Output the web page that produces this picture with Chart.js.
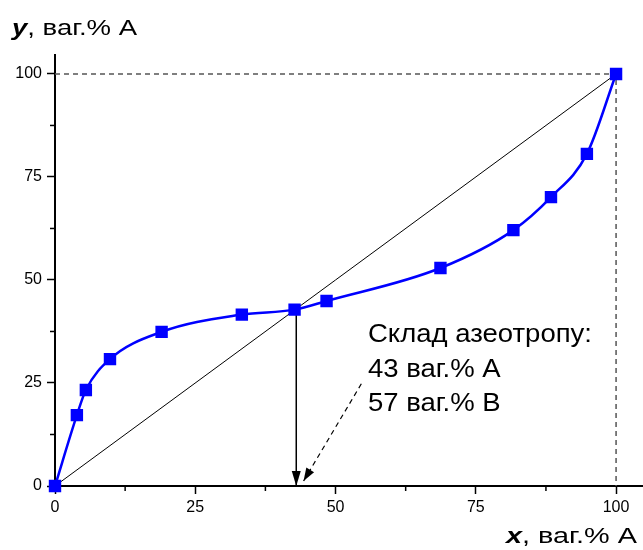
<!DOCTYPE html>
<html><head><meta charset="utf-8">
<script src="https://cdn.jsdelivr.net/npm/chart.js@4.4.0/dist/chart.umd.min.js"></script>
<style>html,body{margin:0;padding:0;background:#fff}#wrap{width:643px;height:550px;position:relative}</style>
</head><body><div id="wrap"><canvas id="c" width="643" height="550"></canvas></div>
<script>
// Data
const curveX = [0, 3.9, 5.5, 9.8, 19.0, 33.3, 42.7, 48.4, 68.7, 81.7, 88.4, 94.8, 100];
const curveY = [0, 17.2, 23.3, 30.8, 37.4, 41.6, 42.8, 44.9, 52.9, 62.1, 70.1, 80.6, 100];
const diagX = [0, 100];
const diagY = [0, 100];
const refX = [0, 100, 100];
const refY = [100, 100, 0];
const azeoX = [43, 43];
const azeoY = [43, 0];
const pointerX = [54.6, 44.3];
const pointerY = [24.8, 1.2];
const majorTicks = [0, 25, 50, 75, 100];
const minorTicks = [12.5, 37.5, 62.5, 87.5];
const noteLines = ['Склад азеотропу:', '43 ваг.% A', '57 ваг.% B'];
const yTitle = ['y', ', ваг.% A'];
const xTitle = ['x', ', ваг.% A'];
const xAxisMax = 104.8;
const yAxisMax = 104.6;

const FONT = '"Liberation Sans", Arial, sans-serif';
const zip = (xs, ys) => xs.map((x, i) => ({x, y: ys[i]}));

function arrowHead(ctx, x1, y1, x2, y2, len, half) {
  const a = Math.atan2(y2 - y1, x2 - x1);
  ctx.beginPath();
  ctx.moveTo(x2, y2);
  ctx.lineTo(x2 - len * Math.cos(a) + half * Math.sin(a), y2 - len * Math.sin(a) - half * Math.cos(a));
  ctx.lineTo(x2 - len * Math.cos(a) - half * Math.sin(a), y2 - len * Math.sin(a) + half * Math.cos(a));
  ctx.closePath();
  ctx.fill();
}

const extras = {
  id: 'extras',
  afterDraw(chart) {
    const ctx = chart.ctx, xs = chart.scales.x, ys = chart.scales.y;
    ctx.save();
    // minor ticks
    ctx.strokeStyle = '#000'; ctx.lineWidth = 1.5;
    minorTicks.forEach(v => {
      const px = xs.getPixelForValue(v), py = ys.getPixelForValue(v);
      ctx.beginPath(); ctx.moveTo(px, ys.bottom); ctx.lineTo(px, ys.bottom + 5); ctx.stroke();
      ctx.beginPath(); ctx.moveTo(xs.left, py); ctx.lineTo(xs.left - 5, py); ctx.stroke();
    });
    // arrow heads
    ctx.fillStyle = '#000';
    arrowHead(ctx, xs.getPixelForValue(azeoX[0]), ys.getPixelForValue(azeoY[0]),
      xs.getPixelForValue(azeoX[1]), ys.getPixelForValue(azeoY[1]), 15, 4.5);
    arrowHead(ctx, xs.getPixelForValue(pointerX[0]), ys.getPixelForValue(pointerY[0]),
      xs.getPixelForValue(pointerX[1]), ys.getPixelForValue(pointerY[1]), 13, 4.5);
    ctx.textBaseline = 'alphabetic';
    // annotation text (horizontally widened like the reference)
    ctx.font = '25px ' + FONT;
    const sNote = 224 / ctx.measureText(noteLines[0]).width;
    const noteBase = [342, 377, 411];
    noteLines.forEach((t, i) => {
      ctx.save(); ctx.translate(368, noteBase[i]); ctx.scale(sNote, 1);
      ctx.fillText(t, 0, 0); ctx.restore();
    });
    // axis titles
    const title = (parts, x, y, target) => {
      ctx.font = 'italic bold 22px ' + FONT;
      const w0 = ctx.measureText(parts[0]).width;
      ctx.font = '22px ' + FONT;
      const w1 = ctx.measureText(parts[1]).width;
      const s = target / (w0 + w1);
      ctx.save(); ctx.translate(x, y); ctx.scale(s, 1);
      ctx.font = 'italic bold 22px ' + FONT;
      ctx.fillText(parts[0], 0, 0);
      ctx.font = '22px ' + FONT;
      ctx.fillText(parts[1], w0, 0);
      ctx.restore();
    };
    title(yTitle, 12, 35, 125);
    title(xTitle, 506, 543, 131);
    ctx.restore();
  }
};

new Chart(document.getElementById('c'), {
  type: 'scatter',
  data: {
    datasets: [
      {data: zip(curveX, curveY), showLine: true, borderColor: '#0000ff', backgroundColor: '#0000ff',
       borderWidth: 2.5, pointStyle: 'rect', pointRadius: 7, pointHoverRadius: 7,
       cubicInterpolationMode: 'monotone', order: 0, clip: 8},
      {data: zip(diagX, diagY), showLine: true, borderColor: '#000', borderWidth: 1, pointRadius: 0, order: 1},
      {data: zip(refX, refY), showLine: true, borderColor: '#555', borderWidth: 1.5, borderDash: [5, 4], pointRadius: 0, order: 2},
      {data: zip(azeoX, azeoY), showLine: true, borderColor: '#000', borderWidth: 1.5, pointRadius: 0, order: 1},
      {data: zip(pointerX, pointerY), showLine: true, borderColor: '#000', borderWidth: 1.2, borderDash: [5, 4], pointRadius: 0, order: 1}
    ]
  },
  options: {
    responsive: false, animation: false,
    layout: {autoPadding: false, padding: {top: 55, right: 0, left: 0, bottom: 0}},
    plugins: {legend: {display: false}, tooltip: {enabled: false}},
    scales: {
      x: {
        type: 'linear', min: 0, max: xAxisMax,
        afterBuildTicks: s => { s.ticks = majorTicks.map(v => ({value: v})); },
        afterFit: s => { s.height = 64; },
        grid: {drawOnChartArea: false, tickLength: 8, tickWidth: 1.5, tickColor: '#000'},
        border: {display: true, color: '#000', width: 2},
        ticks: {color: '#000', font: {family: FONT, size: 16}, padding: 4, maxRotation: 0}
      },
      y: {
        type: 'linear', min: 0, max: yAxisMax,
        afterBuildTicks: s => { s.ticks = majorTicks.map(v => ({value: v})); },
        afterFit: s => { s.width = 55; },
        grid: {drawOnChartArea: false, tickLength: 8, tickWidth: 1.5, tickColor: '#000'},
        border: {display: true, color: '#000', width: 2},
        ticks: {color: '#000', font: {family: FONT, size: 16}, padding: 5}
      }
    }
  },
  plugins: [extras]
});
</script>
</body></html>
